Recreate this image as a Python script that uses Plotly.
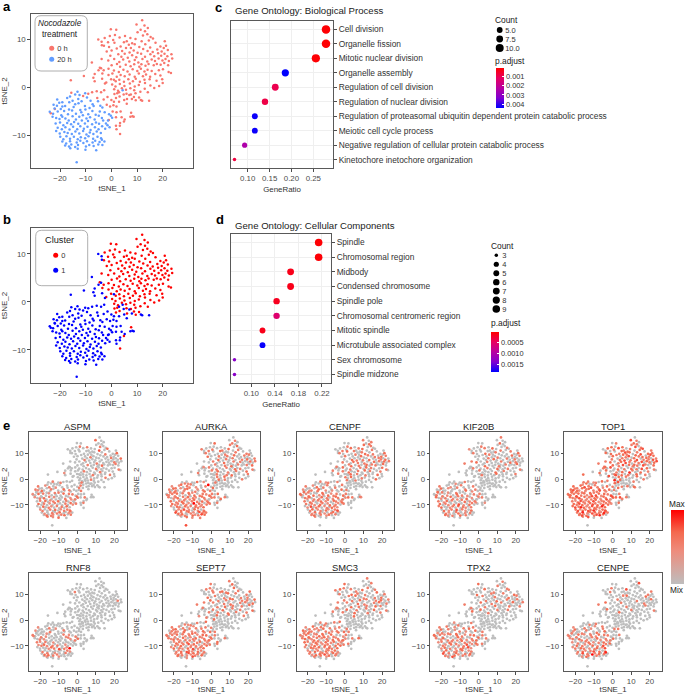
import numpy as np
import plotly.graph_objects as go

W, H = 685, 694

# ---------- t-SNE coordinates read from panels a/b ----------
# 20 h cells, cluster 1
CELLS_20H = [
(-14.1,-1.5),(-13.2,-0.9),(-12.4,-1.6),(-10.2,-1.2),(4.4,-0.6),
(-21.1,-2.5),(-19.1,-3.1),(-17.2,-2.2),(-16.1,-1.9),(-15.1,-2.8),(-12.9,-2.4),(-9.5,-2.1),(-8.1,-2.8),
(-22.5,-3.6),(-20.3,-3.2),(-18,-3.9),(-16.4,-3.1),(-14.1,-3.5),(-12.8,-3.3),(-11.6,-2.9),(-10.3,-3.9),(-7.3,-3.5),(-5.2,-2.9),(-4.3,-3.8),
(-22.1,-4.4),(-21.2,-3.8),(-19.7,-4.5),(-19.1,-4.0),(-16.5,-4.6),(-14.7,-4.1),(-12.1,-4.7),(-8.5,-4.3),(-6.9,-3.9),(-4.5,-5.0),(-3.5,-4.2),
(-24,-5.1),(-22.7,-5.5),(-20.9,-5.0),(-19.5,-5.8),(-18.4,-4.9),(-16.9,-5.6),(-15.3,-4.8),(-13.8,-5.5),(-11.7,-5.2),(-10.1,-4.6),(-9,-5.6),(-7.4,-4.9),(-6.1,-5.7),(-2.6,-5.2),(-0.9,-5.6),
(-22.9,-6.1),(-21.5,-6.4),(-20.2,-6.6),(-19.1,-6.1),(-17.9,-6.5),(-16.6,-6.9),(-15.1,-6.0),(-13.8,-6.7),(-12.5,-6.1),(-11.1,-5.8),(-9.7,-6.5),(-8.3,-6.2),(-6.5,-6.7),(-4.9,-5.9),(-3.7,-6.4),(-0.2,-5.9),(0.3,-6.3),
(-21.7,-7.5),(-20,-7.3),(-18.7,-7.9),(-17.2,-7.4),(-15.7,-7.7),(-14.5,-7.2),(-12.9,-7.6),(-11.5,-6.9),(-10.3,-7.5),(-9.1,-7.0),(-7.5,-7.7),(-6,-7.3),(-4.8,-7.6),(-3.2,-6.9),(-2.1,-7.5),(-1.3,-6.9),
(-20.9,-8.4),(-19.3,-8.7),(-17.9,-8.3),(-16.3,-8.8),(-14.9,-8.2),(-13.3,-8.7),(-12.1,-8.1),(-10.7,-8.6),(-9.3,-8.2),(-8.1,-8.9),(-6.4,-8.3),(-5,-8.7),(-3.6,-8.1),(-2.4,-8.6),(-1.5,-7.9),(-0.7,-8.3),
(-21.5,-9.1),(-20.1,-9.6),(-18.3,-9.3),(-17,-9.5),(-15.4,-9.7),(-14,-9.2),(-12.5,-9.6),(-11,-9.1),(-9.7,-9.8),(-8.4,-9.4),(-7,-9.7),(-5.7,-9.2),(-4.1,-9.5),
(-19.9,-10.3),(-18.7,-10.8),(-17.5,-10.2),(-16.1,-10.7),(-14.6,-10.3),(-13.1,-10.8),(-11.9,-10.4),(-10.2,-10.6),(-8.9,-10.2),(-7.1,-10.7),(-5.4,-10.3),(-4,-10.6),
(-19.1,-11.3),(-17.6,-11.7),(-16.1,-11.2),(-13.5,-11.5),(-12.1,-11.1),(-10.9,-11.6),(-9.5,-11.2),(-7.3,-11.5),(-6.3,-11.1),(-4.6,-11.4),(-3.7,-10.9),
(-18,-12.1),(-16.5,-12.3),(-15.6,-11.9),(-14.1,-12.4),(-13,-12),(-9.9,-12.3),(-8.6,-12.0),(-6.9,-12.2),(-5.1,-11.9),(-2.7,-11.3),
(-16,-12.7),(-13.1,-12.8),(-10.1,-13),(-5.9,-13.1),(-3.5,-12),(-13.5,-15.6),
]
# 0 h cells, cluster 1
CELLS_0H_C1 = [
(-23.6,-5.4),(-22,-4.5),(-15.6,-1.1),(-11,-1.8),(-9,-1.3),(-7.5,-1.0),(-5.7,-0.8),(-4,-1.0),(-2.8,-0.6),(-5.5,-2.2),
(-3,-2.5),(-1.5,-2),(0,-2.6),(1,-3),(-1.8,-3.6),(-0.5,-4),(0.8,-3.7),(2,-4),(3,-3),(0.5,-5),
(2,-5.2),(3.6,-5),(-1,-6.8),(1.8,-6.2),(4,-6.2),(3.4,-7.4),(5.2,-6.7),(1.8,-8),(3.3,-8),(8.2,-6),
(7.4,-6.1),(8.7,-6.1),(2,-8.7),(-15.8,1.5),(-10.7,2.4),(-7.6,5.2),(-6.5,2.8),(-7,2),(-6.5,1.3),(-5,3.6),
(-4,4),(-3.6,1.8),(-2.5,0.8),(-5.1,10),(-3.7,8.8),(-3.8,9.5),(1,1.6),(3,-1),(4.8,-1.5),(5,-2.6),
(7,-1.6),(11.5,-2.6),(12,-2.8),(14.7,-2.8),(6,-3.4),(8,-2.4),
]
# 0 h cells, cluster 0
CELLS_0H_C0 = [
(12,14),(9.8,13.1),(12.9,12.9),(14.2,12.4),(11.4,12.0),(13.1,11.7),
(-0.2,12.1),(1.9,12.0),(1.4,10.9),(-0.6,10.7),(10.2,11.5),(12.3,10.8),(14.0,11.1),(15.3,10.5),
(-2.6,10.3),(-1.3,9.4),(0.7,9.9),(3.2,10.4),(5.3,10.7),(6.0,9.6),(7.4,10.3),(8.1,9.2),(9.4,10.1),(11.8,9.6),(14.6,9.8),(16.2,10.2),(20.8,9.6),
(-2.9,8.7),(-0.9,8.4),(1.2,9.3),(3.6,8.5),(4.9,9.4),(6.8,8.9),(7.6,8.2),(9.1,9.0),(10.9,8.4),(13.2,9.0),(15.1,8.3),(17.2,9.3),(19.1,8.5),(21.3,8.7),
(-1.8,7.5),(0.1,7.7),(2.1,8.1),(4.2,7.6),(5.7,8.2),(7.1,7.3),(8.7,7.7),(10.2,7.2),(12.4,8.0),(14.1,7.6),(16.1,7.4),(17.9,7.9),(19.6,7.5),(20.4,8.2),(22.0,7.8),
(-0.4,6.6),(2.7,6.9),(3.9,6.4),(5.2,7.0),(6.4,6.2),(8.1,6.7),(9.7,6.3),(11.6,7.0),(13.1,6.4),(15.2,6.9),(16.7,6.5),(18.2,7.1),(19.4,6.6),(20.7,7.0),(21.8,6.5),(23.4,6.9),
(-1.2,5.6),(1.1,5.9),(3.1,5.3),(4.6,5.8),(7.0,5.4),(9.1,5.7),(10.5,5.2),(12.1,5.9),(14.0,5.4),(15.7,5.8),(17.0,5.5),(18.4,6.0),(19.9,5.6),(21.1,5.9),(22.4,5.5),(23.7,6.0),
(-3.8,5.9),(0.1,4.6),(2.2,4.9),(3.4,4.3),(5.6,4.7),(7.5,4.4),(8.9,4.8),(10.9,4.3),(11.7,4.8),(13.3,4.5),(14.5,4.9),(16.5,4.6),(17.7,4.9),(19.2,4.7),(20.6,5.1),(22.1,4.6),
(-4.5,4.1),(-3,3.6),(-1.1,3.9),(1,3.5),(2.9,3.2),(4.7,3.7),(6.3,3.3),(8.3,3.8),(10.1,3.4),(11.5,3.9),(12.9,3.3),(14.1,3.7),(15.7,3.4),(18.5,3.6),(20.1,3.8),(22.3,3.2),(23.2,3.0),
(-3.5,2.9),(-1.1,2.6),(0.4,2.9),(2.1,2.2),(3.6,2.6),(5.2,2.3),(7.1,2.7),(9.1,2.2),(10.7,2.9),(12.3,2.3),(13.5,2.7),(15.1,2.2),(17.1,2.8),(19.1,2.5),
(-0.1,1.7),(1.7,1.3),(3.1,1.6),(4.9,1.2),(6.6,1.7),(8.4,1.3),(9.5,1.8),(11.1,1.2),(12.9,1.6),(14.9,1.7),(17.6,1.4),(19.8,1.7),
(-2,1),(0.3,0.6),(1.6,0.2),(3.3,0.7),(5.1,0.3),(7.2,0.8),(9.1,0.2),(10.7,0.5),(13.1,0.9),(15.2,0.4),(16.7,-0.1),(18.6,0.3),(20,0.9),
(1.1,-0.4),(2.6,-0.7),(4.1,-0.2),(5.7,-0.5),(7.4,-0.2),(8.9,-0.6),(11.3,-0.9),(13,-0.3),
(1.2,-1.4),(2.3,-1.2),(5.9,-1.3),(7.6,-1.5),(9.4,-1.2),(14.2,-1),
(1.8,-2.2),(3.2,-1.9),(6.1,-2.4),(8.8,-2),(9.5,-2.7),(10.8,-2.1),
(3.4,-9.7),(4.9,-7.1),(7.7,-5.3),
]
# panels in row e use a taller y stretch of the same embedding
E_Y_STRETCH = 1.15

# ---------- gene ontology tables ----------
BP_TERMS = ["Cell division","Organelle fission","Mitotic nuclear division","Organelle assembly",
            "Regulation of cell division","Regulation of nuclear division",
            "Regulation of proteasomal ubiquitin dependent protein catabolic process",
            "Meiotic cell cycle process","Negative regulation of cellular protein catabolic process",
            "Kinetochore inetochore organization"]
BP_RATIO = [0.279,0.279,0.2558,0.186,0.163,0.1395,0.1163,0.1163,0.093,0.0698]
BP_COUNT = [12,12,11,8,7,6,5,5,4,3]
BP_PADJ = [0.00003,0.00003,0.00005,0.0044,0.0009,0.0008,0.0043,0.0043,0.0024,0.0007]

CC_TERMS = ["Spindle","Chromosomal region","Midbody","Condensed chromosome","Spindle pole",
            "Chromosomal centromeric region","Mitotic spindle","Microtubule associated complex",
            "Sex chromosome","Spindle midzone"]
CC_RATIO = [0.2143,0.2143,0.1667,0.1667,0.1429,0.1429,0.119,0.119,0.0714,0.0714]
CC_COUNT = [9,9,7,7,6,6,5,5,3,3]
CC_PADJ = [0.00002,0.00003,0.00012,0.00012,0.00015,0.00055,0.00012,0.0018,0.0013,0.0013]

BP_COUNT_KEYS = ["5.0","7.5","10.0"]
BP_COUNT_SIZES = [5.8,6.8,8.0]
CC_COUNT_KEYS = ["3","4","5","6","7","8","9"]
CC_COUNT_VALUES = [3,4,5,6,7,8,9]
BP_PADJ_TICKS = [0.001,0.002,0.003,0.004]
CC_PADJ_TICKS = [0.0005,0.0010,0.0015]

# ---------- per-gene expression level (0 = grey, 9 = red), cell by cell ----------
GENES = [["ASPM","AURKA","CENPF","KIF20B","TOP1"],["RNF8","SEPT7","SMC3","TPX2","CENPE"]]
EXPR_20H = {
"ASPM":  "0500 0 5040 5000 5 0 0 050 4060 5040 6 0 0 5 0 0 5040 6 0 5040 0 5 0 6 0 5 0 4 0 5 0 6 0 5 0 4 0 0 0 5 0 4 6 5 0 5 0 6 0 4 5 0 6 0 0 5 0 4 0 5 6 0 5 0 4 0 5 0 0 0 5 0 6 4 0 5 0 0 6 0 5 4 0 5 0 5 0 6 0 4 5 0 0 5 0 6 0 4 5 5 6 0 4 0 5 0 5 6 0 0 4 5 0 6 0 5 4 0 5 6 0 0 5 4 6 0 5 0 0 5 0 0 0 0",
"AURKA": "5040 0 4546 0504 5 6 0 456 5040 5406 5 0 4 6 5 0 5604 5 4 6050 5 4 6 0 5 4 6 5 0 4 5 6 0 5 4 6 0 5 4 0 6 5 4 5 6 0 5 4 6 5 0 4 5 6 5 0 6 4 5 0 6 4 5 0 6 5 4 0 9 5 6 4 0 5 6 5 4 0 6 5 0 6 4 5 0 6 5 4 6 0 5 4 6 7 5 4 0 6 5 0 4 7 6 5 0 6 5 4 0 7 5 6 0 4 6 5 0 6 4 5 7 5 0 6 4 5 6 7 0 5 0 0 6",
"CENPF": "0504 0 5040 6050 4 0 5 060 5405 0605 4 0 5 6 0 4 5060 4 5 0 604 5 0 6 4 5 0 6 0 5 4 6 0 5 0 4 6 0 5 0 4 6 5 0 4 5 0 6 4 0 5 6 0 4 5 0 6 5 0 4 6 5 0 5 4 0 6 5 0 4 6 0 5 4 0 6 5 0 4 7 0 5 6 0 4 5 0 6 5 4 0 5 6 0 4 5 0 6 4 0 5 7 0 4 6 5 0 4 0 5 6 0 4 5 6 0 0 5 4 6 0 5 0 4 0",
"KIF20B":"0040 0 5000 4050 0 6 0 400 5040 0605 0 4 0 5 0 6 0405 0 5 0 400 6 0 5 0 4 5 0 6 0 4 0 5 0 6 4 0 5 0 0 6 0 4 5 0 5 0 4 6 0 5 0 4 0 5 6 0 4 0 5 0 6 0 5 4 0 5 0 7 0 4 0 6 5 0 4 0 5 6 0 0 4 5 0 6 0 5 4 0 5 0 6 0 4 5 0 7 0 5 4 0 6 0 5 4 0 5 6 0 4 0 5 0 6 4 0 5 0 6 0 5 0 0 0",
"TOP1":  "6504 0 6564 7555 6 5 4 656 7564 5675 6 5 4 6 5 7 6456 5 7 6 564 6 5 7 6 4 5 7 6 5 4 6 7 5 6 4 5 7 6 5 4 6 5 7 6 5 4 6 7 5 4 6 5 7 6 4 5 6 7 5 4 6 5 7 6 5 4 6 7 5 6 4 7 5 6 5 4 6 7 5 8 6 4 5 7 6 5 4 8 6 5 7 4 6 5 7 6 8 5 4 6 7 5 6 8 4 5 7 6 5 4 8 6 5 7 4 6 0 5 7 8 6 5 4 7",
"RNF8":  "0000 0 4000 5000 4 0 0 000 4050 0000 0 4 5 0 0 0 4050 0 5 0 400 0 0 0 5 4 0 5 0 0 5 0 4 0 0 0 0 0 0 0 0 5 4 0 6 5 4 0 5 0 0 4 0 0 0 0 0 0 0 0 5 4 5 6 4 0 5 0 5 0 0 4 0 0 0 0 0 0 0 0 0 4 6 5 0 7 0 5 4 9 0 5 0 0 0 0 0 0 0 0 5 4 0 6 5 0 4 5 0 0 5 0 0 0 4 6 0 5 4 0 0 0 0 0 0",
"SEPT7": "5040 0 5640 5045 0 5 4 060 5405 6054 5 0 6 4 5 0 6450 5 4 6 054 5 6 0 4 5 6 0 5 4 6 0 5 4 6 5 0 4 5 6 0 4 5 6 5 0 4 6 5 4 0 6 5 0 4 5 6 0 5 4 6 0 5 4 6 5 0 7 4 6 5 0 4 5 6 0 5 4 6 0 5 4 0 6 5 7 0 4 5 6 0 5 4 6 0 7 5 4 0 6 5 0 4 6 5 0 7 4 6 5 0 4 5 6 0 5 0 4 7 5 0 6 0 0 4",
"SMC3":  "0505 0 4560 4505 6 0 5 450 6504 5046 5 4 0 6 5 4 0654 5 6 0 456 5 0 4 6 5 0 4 5 6 0 5 4 6 5 0 4 6 5 0 6 4 5 0 4 6 5 0 4 6 5 4 0 6 5 4 6 0 5 4 6 5 0 4 6 5 0 4 6 5 4 0 6 5 6 0 5 4 0 6 5 4 6 0 5 4 6 5 0 6 4 5 0 6 5 4 0 6 5 4 6 0 5 4 0 6 5 7 4 0 6 5 4 0 5 6 0 5 4 6 0 5 0 0 0",
"TPX2":  "0400 0 5050 0405 0 6 0 504 0506 0405 0 5 0 6 0 4 5060 5 0 4 050 6 0 5 4 0 6 0 5 0 4 6 0 5 0 4 0 6 5 0 4 0 5 6 0 4 5 0 0 6 5 0 4 0 6 5 0 4 5 0 6 0 5 4 0 6 0 5 4 0 5 7 0 4 0 6 5 0 4 6 0 5 0 4 0 6 5 0 7 4 0 5 6 0 0 4 5 0 6 0 4 5 7 0 5 0 6 4 0 5 0 6 0 5 4 0 7 6 0 5 0 4 0 0 0",
"CENPE": "0050 0 4000 5040 0 6 0 050 4005 6040 0 5 0 4 6 0 5040 0 5 6 040 5 0 4 6 0 5 0 4 5 0 0 6 5 0 4 0 5 0 6 4 0 5 0 6 4 0 5 0 0 5 6 0 4 0 5 0 6 4 0 5 0 6 0 5 4 0 5 6 0 4 0 7 5 0 6 0 4 5 0 6 5 0 4 0 5 6 0 4 7 0 5 0 6 4 0 5 7 0 6 0 5 4 0 7 5 0 9 4 6 0 5 8 0 4 0 6 5 0 5 0 0 0 0 0",
}
EXPR_0H_C1 = {
"ASPM":"0 0 0 0 5 0 0 0 0 0 0 0 0 5 0 0 0 5 0 0 0 0 0 0 5 0 0 0 5 0 0 0 0 0 0 0 0 4 0 0 0 0 0 0 0 0",
"AURKA":"5 5 0 5 0 6 0 4 0 0 5 9 0 6 0 5 0 0 0 5 0 6 0 5 0 0 6 0 5 0 5 0 0 0 0 0 0 5 0 0 4 0 0 5 0 0",
"CENPF":"5 0 0 0 5 0 0 5 0 0 0 5 0 0 6 0 5 0 0 5 0 0 0 6 5 0 0 0 0 5 0 4 0 0 0 0 5 0 0 0 0 5 0 0 0 0",
"KIF20B":"0 5 0 0 0 5 0 0 0 0 5 0 0 0 5 0 0 0 0 5 0 0 0 5 0 0 0 0 4 0 0 0 0 0 0 5 0 0 0 0 0 0 0 4 0 0",
"TOP1":"6 6 5 0 5 0 6 0 5 0 6 0 5 0 6 0 5 0 6 0 0 5 0 6 7 0 5 0 6 0 5 0 0 6 0 5 0 6 0 5 6 0 0 0 6 0 5 7 0 5 0 6 5 0 0 5",
"RNF8":"5 0 0",
"SEPT7":"5 4 0 5 0 5 0 0 6 0 5 0 5 0 0 6 0 5 0 0 5 0 5 0 0 6 0 0 5 0 5 0 0 0 0 5 0 0 4 0 0 0 5 0 0 0",
"SMC3":"0 5 0 5 0 0 5 0 6 0 5 0 0 5 0 6 0 5 0 5 0 0 6 0 5 0 0 5 0 0 6 0 0 0 0 0 5 0 0 0 5 0 0 5 0 0",
"TPX2":"5 0 0 5 0 0 0 5 0 0 5 0 0 0 6 0 0 5 0 0 5 0 0 0 5 0 0 5 0 0 0 0 0 0 0 5 0 0 0 0 5 0 0 0 0 0",
"CENPE":"5 5 0 0 5 0 0 0 0 5 0 0 0 5 0 0 0 0 5 0 0 5 0 0 0 0 0 0 0 0 0 0 0 0 0 5 0 0 0 0 0 0 0 0 0 0",
}
EXPR_0H_C0 = {
"ASPM":"0 6 0 0 0 0 0 0 5 0 0 5 0 0 0 0 0 0 5 0 0 0 0 7 0 6 0 0 0 0 0 0 0 0 0 0 0 5 0 0 6 0 0 0 0 0 5 0 0 0 0 0 0 0 0 0 0 0 5 0 0 0 0 0 0 0 0 5 0 0 0 6 0 0 0 0 0 0 5 0 0 0 0 0 5 0 0 0 0 0 0 0 5 0 0 0 0 6 0 0 0 0 5 0 0 0 0 0 0 0 0 0 5 0 0 0 0 0 0 5 0 0 0 0 0 5 0 0 0 0 5 0 0 0 0 0 0 0 0 0 5 0 0 0 0 5 0 0 0 0 0 0 0 0 0 0 5 0 0 0 0 0 0 0 5 0 0 0 0 5 0 0 0 0 5",
"AURKA":"0 0 5 0 5 0 0 6 0 0 5 0 6 0 0 5 5 0 0 5 0 0 6 0 5 0 0 5 0 0 0 6 0 5 0 0 5 0 0 5 0 6 0 0 5 0 0 5 0 6 0 0 5 0 5 0 0 0 6 0 0 5 0 5 0 0 5 0 6 0 0 5 0 5 0 0 6 0 0 5 0 5 0 0 0 6 0 5 0 0 5 0 0 5 0 6 0 0 5 0 0 5 0 6 0 0 5 0 5 0 0 5 0 0 6 0 5 0 0 5 0 0 0 5 0 6 0 0 5 0 0 5 0 0 6 0 0 5 0 0 5 0 6 0 0 0 5 0 0 0 5 0 6 0 0 0 0 5 0 0 0 0 6 0 5 0 0 0 0 5",
"CENPF":"0 5 0 5 0 6 0 0 5 0 6 0 5 0 0 5 0 6 0 0 5 0 6 0 5 0 0 5 0 6 0 5 0 0 5 6 0 5 0 0 6 0 5 0 0 5 0 6 0 5 0 5 0 6 0 5 0 0 6 0 5 0 5 0 6 0 0 5 5 0 6 0 5 0 0 6 5 0 5 0 0 6 0 5 0 6 0 5 0 0 5 6 0 5 0 0 6 0 5 5 0 0 6 0 5 0 6 0 5 0 0 5 0 6 0 5 0 0 6 5 0 0 5 0 6 0 0 5 0 6 0 5 0 0 5 0 0 6 0 5 0 0 5 0 0 6 0 0 5 0 6 0 0 5 0 0 0 6 0 0 5 0 0 5",
"KIF20B":"5 0 0 0 6 0 0 0 5 0 0 0 0 5 0 0 0 5 0 0 6 0 0 5 0 0 0 5 0 0 6 0 0 0 5 0 0 0 5 0 6 0 0 0 0 5 0 0 5 0 0 0 6 0 0 5 0 0 0 5 0 6 0 0 0 5 0 0 5 0 0 0 6 0 0 5 0 0 0 5 0 0 6 0 5 0 0 0 5 0 0 6 0 0 0 5 0 0 5 0 0 0 6 0 0 5 0 0 0 5 0 0 6 0 0 0 5 0 0 5 0 0 0 5 0 0 0 0 6 0 0 5 0 0 0 0 5 0 0 0 0 6 0 0 0 0 5",
"TOP1":"0 7 5 0 6 5 0 5 0 6 5 7 0 5 6 0 5 7 6 5 0 6 5 0 6 7 5 0 6 0 5 6 7 5 6 0 5 7 0 6 5 0 6 5 0 6 5 7 0 6 5 6 0 5 7 6 5 0 6 5 7 0 5 6 7 0 5 6 5 0 7 5 6 0 5 6 7 5 0 6 5 7 0 6 5 0 6 7 5 6 0 5 7 0 6 5 6 5 0 7 5 0 0 6 5 0 7 0 6 0 5 0 6 0 5 0 7 6 0 5 0 6 0 0 5 0 6 0 8 5 0 0 6 0 5 0 7 0 6 0 5 0 0 6 0 5 0 7 0 0 6 0 5 0 0 6 0 5 0 0 8 0 6 0 0 0 5 0 6",
"RNF8":"0 0 0 0 0 0 0 0 0 0 0 0 0 0 0 5 0 0 0 0 0 0 0 0 0 0 0 0 0 0 0 0 0 0 0 0 0 0 0 0 0 0 0 0 0 0 0 0 0 0 0 0 0 0 0 0 0 0 0 0 0 0 0 0 0 0 0 0 0 0 5",
"SEPT7":"0 5 0 0 6 0 5 0 0 5 0 6 0 0 5 0 5 0 0 6 0 5 0 0 5 0 6 0 0 5 0 5 0 0 6 0 5 0 0 5 0 6 0 5 0 0 5 0 6 0 0 5 0 5 0 0 6 0 5 0 0 5 0 6 0 0 5 0 5 0 0 6 0 5 0 0 5 0 6 0 0 5 0 5 0 0 6 0 5 0 0 5 0 6 0 0 5 0 0 5 0 0 6 0 5 0 0 5 0 0 6 0 0 5 0 0 5 0 0 6 0 0 5 0 0 5 0 0 6 0 0 5 0 0 5 0 0 6 0 0 0 5 0 0 0 5 0 0 0 6",
"SMC3":"5 0 0 5 0 0 6 0 0 5 0 5 0 0 6 0 0 5 0 5 0 0 6 0 0 5 0 5 0 0 6 0 5 0 0 5 0 0 6 0 5 0 0 5 0 6 0 0 5 0 0 5 0 6 0 0 5 0 5 0 0 6 0 5 0 0 5 0 6 0 0 5 0 5 0 0 6 0 5 0 0 5 0 6 0 0 5 0 5 0 0 6 0 5 0 0 5 0 0 6 0 5 0 0 5 0 0 6 0 0 5 0 0 5 0 0 6 0 0 5 0 0 5 0 0 0 6 0 0 0 5 0 0 0 5 0 0 0 6",
"TPX2":"0 0 5 0 0 0 6 0 0 0 5 0 0 5 0 0 0 6 0 0 0 5 0 0 0 5 0 0 6 0 0 0 5 0 0 0 5 0 0 6 0 0 0 5 0 0 0 5 0 0 0 6 0 0 5 0 0 0 5 0 0 0 6 0 0 5 0 0 0 5 0 0 0 6 0 0 5 0 0 5 0 0 0 6 0 0 0 5 0 0 0 5 0 0 6 0 0 0 0 5 0 0 0 5 0 0 0 6 0 0 0 0 5 0 0 0 5 0 0 0 0 6 0 0 0 0 5",
"CENPE":"0 0 0 7 0 0 0 0 0 5 0 0 0 0 0 5 0 0 0 0 7 0 0 0 0 0 5 0 0 0 0 0 0 6 0 0 0 0 0 5 0 0 0 0 0 5 0 0 0 0 0 0 6 0 0 0 0 5 0 0 0 0 0 0 5 0 0 0 0 6 0 0 0 0 0 5 0 0 0 0 0 0 5 0 0 0 0 0 6 0 0 0 0 5 0 0 0 0 0 0 5 0 0 0 0 6 0 0 0 0 0 0 5 0 0 0 0 0 0 5 0 0 0 0 0 6",
}

# ---------- styling ----------
FONT = "Liberation Sans"
RED_BLUE = [[0,"#0000FF"],[0.25,"#8000D0"],[0.5,"#B800A0"],[0.75,"#E80060"],[1,"#FF0000"]]
GREY_RED = [[0,"#BEBEBE"],[0.45,"#EE8C7C"],[0.7,"#F4694F"],[1,"#FF0000"]]
AX = dict(showgrid=False, zeroline=False, showline=True, mirror=True, linecolor="#595959", linewidth=1.3,
          ticks="outside", ticklen=2.5, tickwidth=0.7, tickcolor="#4d4d4d",
          tickfont=dict(size=7.9, color="#4d4d4d", family=FONT))
TITLE_FONT = dict(size=7.9, color="#333333", family=FONT)


def levels(s, n):
    s = s.replace(" ", "")
    return [int(c) for c in s.ljust(n, "0")[:n]]


def gosize(c):
    return 3.5 + 5 * np.sqrt((np.asarray(c, float) - 3) / 9)


fig = go.Figure()
layout = {}
annotations = []
shapes = []
axis_count = [0]


def new_axes(x0, y0, x1, y1, xopts, yopts):
    axis_count[0] += 1
    n = axis_count[0]
    sfx = "" if n == 1 else str(n)
    layout["xaxis" + sfx] = dict(domain=[x0 / W, x1 / W], anchor="y" + sfx, **xopts)
    layout["yaxis" + sfx] = dict(domain=[1 - y1 / H, 1 - y0 / H], anchor="x" + sfx, **yopts)
    return "x" + sfx, "y" + sfx


def text(s, x, y, size=8.4, anchor="left", color="#222222", bold=False, angle=0):
    if bold:
        s = "<b>" + s + "</b>"
    if anchor == "left":
        x -= 2
    annotations.append(dict(text=s, x=x / W, y=1 - y / H, xref="paper", yref="paper", showarrow=False,
                            xanchor=anchor, yanchor="middle", textangle=angle,
                            font=dict(size=size, color=color, family=FONT)))


def rbox(x0, y0, x1, y1, r=6):
    X0, X1 = x0 / W, x1 / W
    Y0, Y1 = 1 - y0 / H, 1 - y1 / H
    rx, ry = r / W, r / H
    path = (f"M {X0+rx} {Y0} L {X1-rx} {Y0} Q {X1} {Y0} {X1} {Y0-ry} L {X1} {Y1+ry} Q {X1} {Y1} {X1-rx} {Y1} "
            f"L {X0+rx} {Y1} Q {X0} {Y1} {X0} {Y1+ry} L {X0} {Y0-ry} Q {X0} {Y0} {X0+rx} {Y0} Z")
    shapes.append(dict(type="path", path=path, xref="paper", yref="paper", line=dict(color="#9a9a9a", width=0.8),
                       layer="above"))


def key_axes(keys, x_center, y_first, y_last, tick_size=7.5, half=4.5):
    n = len(keys)
    step = (y_last - y_first) / max(n - 1, 1)
    return new_axes(x_center - half, y_first - step / 2, x_center + half, y_last + step / 2,
                    dict(visible=False, range=[-0.5, 0.5], fixedrange=True),
                    dict(type="category", side="right", categoryorder="array", categoryarray=keys,
                         tickmode="array", tickvals=keys, range=[n - 0.5, -0.5], showgrid=False, zeroline=False,
                         showline=False, ticks="", tickfont=dict(size=tick_size, color="#333333", family=FONT)))


pts20 = np.array(CELLS_20H, float)
ptsB = np.array(CELLS_0H_C1, float)
ptsA = np.array(CELLS_0H_C0, float)

# ---------- panels a, b ----------
XA = dict(AX, range=[-31.3, 31.8], tickvals=[-20, -10, 0, 10, 20], title=dict(text="tSNE_1", font=TITLE_FONT, standoff=3))
YA = dict(AX, range=[-16.8, 15.3], tickvals=[-10, 0, 10], title=dict(text="tSNE_2", font=TITLE_FONT, standoff=4))
DOT = 2.5

xa, ya = new_axes(31, 14, 193, 168, XA, YA)
zero_h = np.vstack([ptsB, ptsA])
fig.add_trace(go.Scatter(x=zero_h[:, 0], y=zero_h[:, 1], mode="markers", xaxis=xa, yaxis=ya, showlegend=False,
                         marker=dict(size=DOT, color="#F8766D")))
fig.add_trace(go.Scatter(x=pts20[:, 0], y=pts20[:, 1], mode="markers", xaxis=xa, yaxis=ya, showlegend=False,
                         marker=dict(size=DOT, color="#619CFF")))

xb, yb = new_axes(31, 228, 193, 383, XA, dict(YA, range=[-16.9, 15.4]))
cluster1 = np.vstack([pts20, ptsB])
fig.add_trace(go.Scatter(x=ptsA[:, 0], y=ptsA[:, 1], mode="markers", xaxis=xb, yaxis=yb, showlegend=False,
                         marker=dict(size=DOT, color="#FF0000")))
fig.add_trace(go.Scatter(x=cluster1[:, 0], y=cluster1[:, 1], mode="markers", xaxis=xb, yaxis=yb, showlegend=False,
                         marker=dict(size=DOT, color="#0000FF")))

# legends a, b
rbox(35, 15.7, 87.3, 71)
text("<i>Nocodazole</i>", 60, 23.3, 8.2, "center")
text("treatment", 60, 34, 8.3, "center")
lx, ly = key_axes(["0 h", "20 h"], 51.7, 48.3, 59.3)
fig.add_trace(go.Scatter(x=[0], y=["0 h"], mode="markers", xaxis=lx, yaxis=ly, showlegend=False, marker=dict(size=5, color="#F8766D")))
fig.add_trace(go.Scatter(x=[0], y=["20 h"], mode="markers", xaxis=lx, yaxis=ly, showlegend=False, marker=dict(size=5, color="#619CFF")))

rbox(35.7, 230.3, 87.7, 285.7)
text("Cluster", 59.3, 240.3, 9.2, "center")
lx, ly = key_axes(["0", "1"], 55.7, 255.3, 270.3)
fig.add_trace(go.Scatter(x=[0], y=["0"], mode="markers", xaxis=lx, yaxis=ly, showlegend=False, marker=dict(size=5, color="#FF0000")))
fig.add_trace(go.Scatter(x=[0], y=["1"], mode="markers", xaxis=lx, yaxis=ly, showlegend=False, marker=dict(size=5, color="#0000FF")))

# ---------- panels c, d ----------
GO_GRID = dict(showgrid=True, gridcolor="#EFEFEF", gridwidth=0.6)


def go_panel(terms, ratio, count, padj, box, xrange, xticks, xfmt, coloraxis):
    xo = dict(AX, **GO_GRID, range=xrange, tickvals=xticks, tickformat=xfmt,
              title=dict(text="GeneRatio", font=TITLE_FONT, standoff=4))
    yo = dict(AX, **GO_GRID, type="category", categoryorder="array", categoryarray=terms, side="right",
              range=[len(terms) - 0.4, -0.6])
    yo["tickfont"] = dict(size=8.4, color="#333333", family=FONT)
    x, y = new_axes(*box, xo, yo)
    fig.add_trace(go.Scatter(x=ratio, y=terms, mode="markers", xaxis=x, yaxis=y, showlegend=False,
                             marker=dict(size=gosize(count), color=-np.array(padj), coloraxis=coloraxis,
                                         line=dict(width=0), opacity=1)))


go_panel(BP_TERMS, BP_RATIO, BP_COUNT, BP_PADJ, (230.7, 20.7, 333.3, 168.3), [0.0611, 0.2957],
         [0.10, 0.15, 0.20, 0.25], ".2f", "coloraxis2")
go_panel(CC_TERMS, CC_RATIO, CC_COUNT, CC_PADJ, (230.7, 233.7, 331.3, 383.3), [0.065, 0.2358],
         [0.10, 0.14, 0.18, 0.22], ".2f", "coloraxis3")

text("Gene Ontology: Biological Process", 235, 11, 9.6)
text("Gene Ontology: Cellular Components", 235, 225, 9.6)

text("Count", 495, 20)
lx, ly = key_axes(BP_COUNT_KEYS, 499.7, 30, 48)
fig.add_trace(go.Scatter(x=[0] * 3, y=BP_COUNT_KEYS, mode="markers", xaxis=lx, yaxis=ly, showlegend=False,
                         marker=dict(size=BP_COUNT_SIZES, color="black", opacity=1, line=dict(width=0))))
text("p.adjust", 495, 61)

text("Count", 491, 245.7)
lx, ly = key_axes(CC_COUNT_KEYS, 496.3, 255.3, 309, half=5)
fig.add_trace(go.Scatter(x=[0] * 7, y=CC_COUNT_KEYS, mode="markers", xaxis=lx, yaxis=ly, showlegend=False,
                         marker=dict(size=gosize(CC_COUNT_VALUES), color="black", opacity=1, line=dict(width=0))))
text("p.adjust", 491, 322.7)


def padj_bar(cmax, ticks, fmt, x, y, length):
    return dict(cmin=-cmax, cmax=0, colorscale=RED_BLUE,
                colorbar=dict(thickness=8, thicknessmode="pixels", len=length, lenmode="pixels", x=x / W, xanchor="left",
                              y=1 - y / H, yanchor="top", xpad=0, ypad=0, outlinewidth=0,
                              tickvals=[-t for t in ticks], ticktext=[fmt % t for t in ticks],
                              ticks="inside", ticklen=2, tickcolor="white", tickwidth=0.6,
                              tickfont=dict(size=7.4, color="#333333", family=FONT)))


layout["coloraxis2"] = padj_bar(0.0044, BP_PADJ_TICKS, "%.3f", 496, 67.7, 40)
layout["coloraxis3"] = padj_bar(0.00183, CC_PADJ_TICKS, "%.4f", 491, 331.7, 40)

# ---------- panel e ----------
X0S = [29, 162.8, 296.6, 430.4, 564.3]
Y0S = [432.3, 573.3]
XE = dict(AX, range=[-26, 26.5], tickvals=[-20, -10, 0, 10, 20], title=dict(text="tSNE_1", font=TITLE_FONT, standoff=3))
YE = dict(AX, range=[-19.7, 18.1], tickvals=[-10, 0, 10], title=dict(text="tSNE_2", font=TITLE_FONT, standoff=3))

all_pts = np.vstack([pts20, ptsB, ptsA])
for r, row in enumerate(GENES):
    for c, gene in enumerate(row):
        lv = np.array(levels(EXPR_20H[gene], len(pts20)) + levels(EXPR_0H_C1[gene], len(ptsB))
                      + levels(EXPR_0H_C0[gene], len(ptsA)))
        order = np.argsort(lv, kind="stable")
        x, y = new_axes(X0S[c], Y0S[r], X0S[c] + 97.5, Y0S[r] + 97.6, XE, YE)
        fig.add_trace(go.Scatter(x=all_pts[order, 0], y=all_pts[order, 1] * E_Y_STRETCH, mode="markers",
                                 xaxis=x, yaxis=y, showlegend=False,
                                 marker=dict(size=2.7, color=lv[order], coloraxis="coloraxis", line=dict(width=0))))
        text(gene, X0S[c] + 48.5, Y0S[r] - 6, 9.4, "center")

layout["coloraxis"] = dict(cmin=0, cmax=9, colorscale=GREY_RED,
                           colorbar=dict(thickness=13, thicknessmode="pixels", len=74.3, lenmode="pixels",
                                         x=671 / W, xanchor="left", y=1 - 510 / H, yanchor="top", xpad=0, ypad=0,
                                         outlinewidth=0, tickvals=[], showticklabels=False, ticks=""))
text("Max", 677, 504, 8.3, "center")
text("Mix", 677, 590, 8.3, "center")

# panel letters
for letter, px, py in [("a", 3, 6), ("b", 3, 219), ("c", 215, 8), ("d", 216, 219), ("e", 3, 425)]:
    text(letter, px, py, 13, "left", "black", bold=True)

fig.update_layout(width=W, height=H, margin=dict(l=0, r=0, t=0, b=0), autosize=False,
                  paper_bgcolor="white", plot_bgcolor="white", showlegend=False,
                  font=dict(family=FONT), annotations=annotations, shapes=shapes, **layout)
fig.write_html("out.html", config=dict(displayModeBar=False),
               post_script="document.body.style.margin='0';document.body.style.overflow='hidden';")
